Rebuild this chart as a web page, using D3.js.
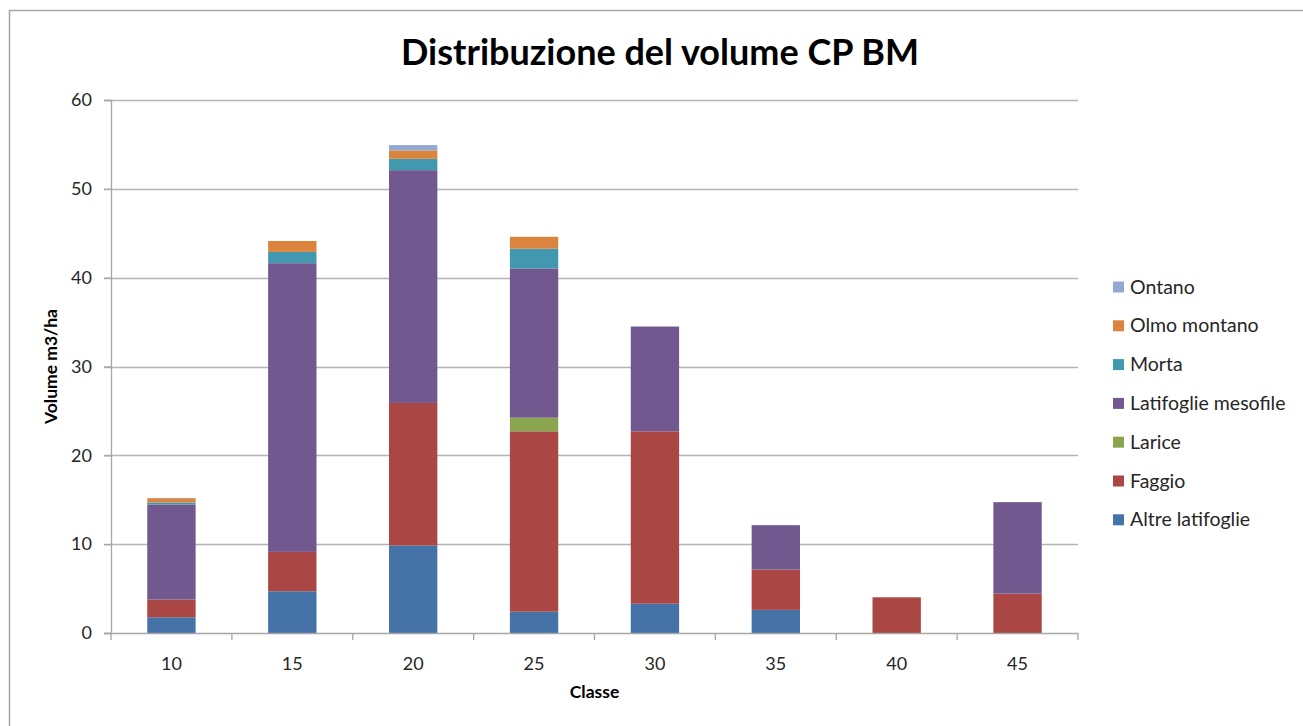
<!DOCTYPE html>
<html>
<head>
<meta charset="utf-8">
<script src="https://cdn.jsdelivr.net/npm/d3@7"></script>
<style>
  body { margin: 0; background: #fff; }
  text { font-family: Lato, "Open Sans", sans-serif; fill: #000; }
</style>
</head>
<body>
<div id="myGraph"></div>
<script>
var classi = ["10", "15", "20", "25", "30", "35", "40", "45"]
// series, bottom of the stack first
var specie = ["Altre latifoglie", "Faggio", "Larice", "Latifoglie mesofile", "Morta", "Olmo montano", "Ontano"]
var altreLatifoglie = [1.77, 4.7, 9.85, 2.4, 3.3, 2.6, 0, 0]
var faggio = [2.0, 4.43, 16.05, 20.3, 19.4, 4.54, 4.02, 4.43]
var larice = [0, 0, 0, 1.54, 0, 0, 0, 0]
var latifoglieMesofile = [10.7, 32.5, 26.2, 16.8, 11.8, 5.0, 0, 10.3]
var morta = [0.22, 1.27, 1.28, 2.22, 0, 0, 0, 0]
var olmoMontano = [0.48, 1.23, 0.94, 1.34, 0, 0, 0, 0]
var ontano = [0.04, 0, 0.6, 0, 0, 0, 0, 0]
var colori = ["#4572A7", "#AA4643", "#89A54E", "#71588F", "#4198AF", "#DB843D", "#93A9CF"]
var yTicks = [0, 10, 20, 30, 40, 50, 60]

var serie = [altreLatifoglie, faggio, larice, latifoglieMesofile, morta, olmoMontano, ontano]
var data = classi.map(function(c, i) {
    var row = {classe: c}
    specie.forEach(function(s, j) { row[s] = serie[j][i] })
    return row
})

var W = 1303, H = 726
var margin = {top: 100, right: 225, bottom: 93, left: 111}
var width = 1078 - margin.left
var height = 633 - margin.top

var svg = d3.select("#myGraph")
  .append("svg")
    .attr("width", W)
    .attr("height", H)

// chart frame
svg.append("rect")
    .attr("x", 9.5).attr("y", 10.5)
    .attr("width", W).attr("height", H)
    .style("fill", "none")
    .style("stroke", "#a6a6a6")
    .attr("stroke-width", 1.5)

svg.append("text")
    .attr("x", 660).attr("y", 65)
    .style("text-anchor", "middle")
    .style("font-size", "36px")
    .style("font-weight", "bold")
    .text("Distribuzione del volume CP BM")

var g = svg.append("g")
    .attr("transform", "translate(" + margin.left + "," + margin.top + ")")

var x = d3.scaleBand().domain(classi).range([0, width]).paddingInner(0.6).paddingOuter(0.3)
var xb = d3.scaleBand().domain(classi).range([0, width])
var y = d3.scaleLinear().domain([0, 60]).range([height, 0])

// gridlines
g.selectAll(".grid")
  .data(yTicks.slice(1))
  .enter().append("line")
    .attr("x1", -7).attr("x2", width)
    .attr("y1", function(d) { return Math.round(y(d)) + 0.5 })
    .attr("y2", function(d) { return Math.round(y(d)) + 0.5 })
    .style("stroke", "#b3b3b3")
    .attr("stroke-width", 1.3)

var stack = d3.stack().keys(specie)(data)

g.selectAll(".serie")
  .data(stack)
  .enter().append("g")
    .style("fill", function(d, i) { return colori[i] })
  .selectAll("rect")
  .data(function(d) { return d })
  .enter().append("rect")
    .attr("x", function(d) { return x(d.data.classe) })
    .attr("width", x.bandwidth())
    .attr("y", function(d) { return y(d[1]) })
    .attr("height", function(d) { return y(d[0]) - y(d[1]) })

// y axis
var yAxis = g.append("g")
    .call(d3.axisLeft(y).tickValues(yTicks).tickSize(7).tickPadding(12))
yAxis.select(".domain").style("stroke", "#a6a6a6").attr("stroke-width", 1.3)
yAxis.selectAll(".tick line").style("stroke", "#a6a6a6").attr("stroke-width", 1.3)
yAxis.selectAll(".tick text").style("font-size", "18px").style("fill", "#262626").style("font-family", "Lato, sans-serif")

// x axis with ticks between categories
var xAxis = g.append("g")
    .attr("transform", "translate(0," + height + ")")
xAxis.append("line")
    .attr("x1", -7).attr("x2", width)
    .attr("y1", 0.5).attr("y2", 0.5)
    .style("stroke", "#a6a6a6")
    .attr("stroke-width", 1.3)
xAxis.selectAll(".xt")
  .data(d3.range(classi.length + 1))
  .enter().append("line")
    .attr("x1", function(d) { return d * xb.step() })
    .attr("x2", function(d) { return d * xb.step() })
    .attr("y1", 0).attr("y2", 7)
    .style("stroke", "#a6a6a6")
    .attr("stroke-width", 1.3)
xAxis.selectAll(".xl")
  .data(classi)
  .enter().append("text")
    .attr("x", function(d) { return xb(d) + xb.bandwidth() / 2 })
    .attr("y", 37)
    .style("text-anchor", "middle")
    .style("font-size", "18px")
    .style("fill", "#262626")
    .text(function(d) { return d })

svg.append("text")
    .attr("x", margin.left + width / 2).attr("y", 698)
    .style("text-anchor", "middle")
    .style("font-size", "17.5px")
    .style("font-weight", "bold")
    .text("Classe")

svg.append("text")
    .attr("transform", "translate(57," + (margin.top + height / 2) + ") rotate(-90)")
    .style("text-anchor", "middle")
    .style("font-size", "17.5px")
    .style("font-weight", "bold")
    .text("Volume m3/ha")

// legend, top entry is the last series
var legend = svg.selectAll(".legend")
  .data(specie.slice().reverse())
  .enter().append("g")
    .attr("transform", function(d, i) { return "translate(1113," + (287 + i * 38.8) + ")" })
legend.append("rect")
    .attr("x", 0).attr("y", -5.5)
    .attr("width", 11).attr("height", 11)
    .style("fill", function(d) { return colori[specie.indexOf(d)] })
legend.append("text")
    .attr("x", 17).attr("y", 6.5)
    .style("font-size", "19.5px")
    .style("fill", "#262626")
    .text(function(d) { return d })
</script>
</body>
</html>
